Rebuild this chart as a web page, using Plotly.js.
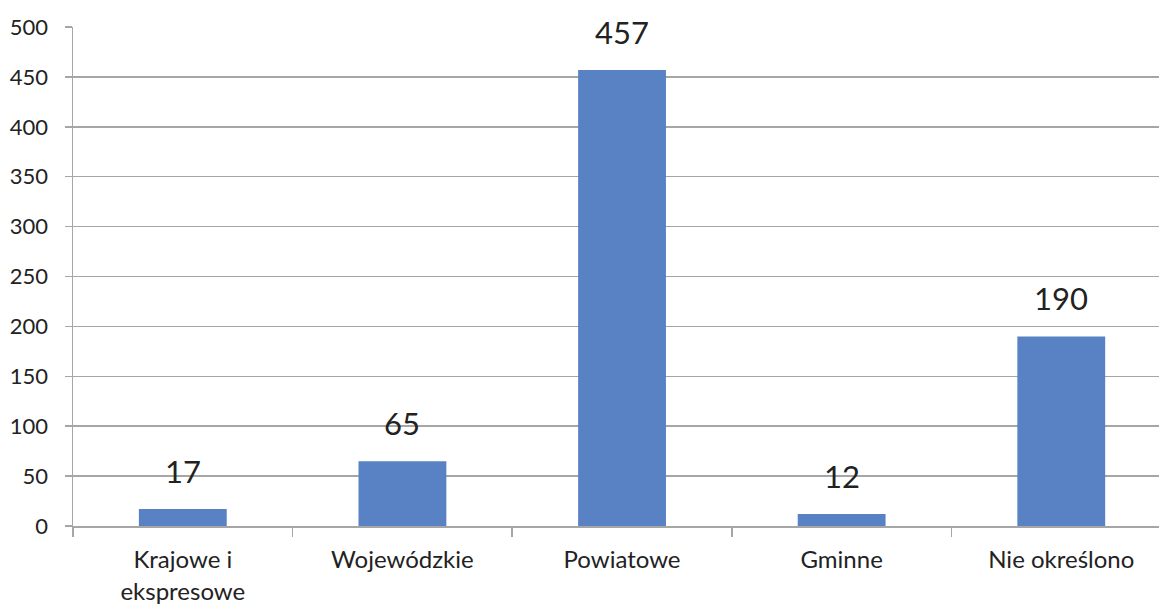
<!DOCTYPE html>
<html>
<head>
<meta charset="utf-8">
<script src="https://cdn.plot.ly/plotly-3.0.1.min.js"></script>
<style>html,body{margin:0;padding:0;background:#fff;}#chart{width:1159px;height:606px;}</style>
</head>
<body>
<div id="chart"></div>
<script>
const categories = ["Krajowe i<br>ekspresowe", "Wojewódzkie", "Powiatowe", "Gminne", "Nie określono"];
const values = [17, 65, 457, 12, 190];
const yTicks = [0, 50, 100, 150, 200, 250, 300, 350, 400, 450, 500];

const barColor = "#5882c4";
const gridColor = "#a6a6a6";
const textColor = "#222222";
const fontFamily = "Lato, 'Open Sans', sans-serif";

const trace = {
  type: "bar",
  x: categories,
  y: values,
  width: 0.4,
  marker: {color: barColor},
  hoverinfo: "skip"
};

const annotations = categories.map((c, i) => ({
  x: c, y: values[i], text: String(values[i]),
  showarrow: false, yanchor: "bottom", yshift: 17,
  font: {family: fontFamily, size: 31, color: textColor}
}));

const layout = {
  width: 1159, height: 606,
  margin: {l: 73, r: 0, t: 26.5, b: 79.5, pad: 0},
  paper_bgcolor: "#fff", plot_bgcolor: "#fff",
  showlegend: false,
  bargap: 0.6,
  xaxis: {
    type: "category",
    range: [-0.5, 4.445],
    showgrid: false,
    showline: true, linecolor: gridColor, linewidth: 1.5,
    ticks: "outside", tickson: "boundaries", ticklen: 9, tickcolor: gridColor, tickwidth: 1.5,
    tickfont: {family: fontFamily, size: 24, color: textColor},
    ticklabelstandoff: 12,
    zeroline: false, fixedrange: true
  },
  yaxis: {
    range: [0, 500],
    tickvals: yTicks, ticktext: yTicks.map(String),
    showgrid: true, gridcolor: gridColor, gridwidth: 1.5,
    showline: true, linecolor: gridColor, linewidth: 1.5,
    ticks: "outside", ticklen: 7, tickcolor: gridColor, tickwidth: 1.5,
    tickfont: {family: fontFamily, size: 22, color: textColor},
    ticklabelstandoff: 12,
    zeroline: false, fixedrange: true
  },
  annotations: annotations
};

Plotly.newPlot("chart", [trace], layout, {displayModeBar: false, staticPlot: true});
</script>
</body>
</html>
